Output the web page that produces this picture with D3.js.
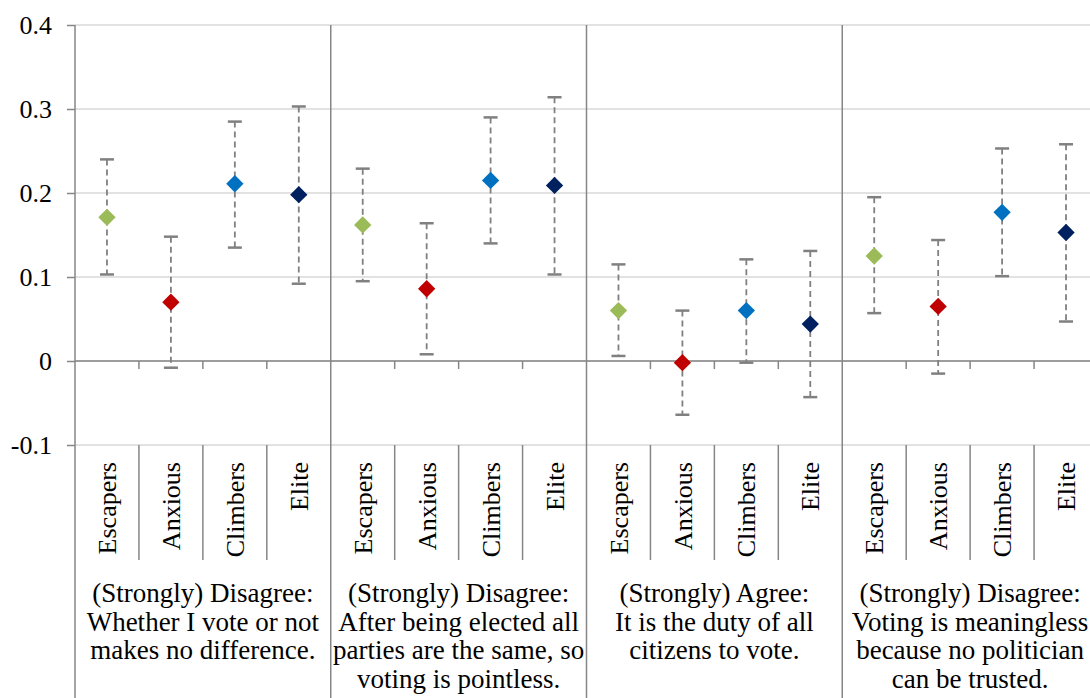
<!DOCTYPE html>
<html>
<head>
<meta charset="utf-8">
<script src="https://cdn.jsdelivr.net/npm/d3@7"></script>
<style>
  html, body { margin: 0; padding: 0; background: #fff; }
  svg { display: block; }
</style>
</head>
<body>
<svg id="chart" width="1090" height="698" font-family="Liberation Serif"></svg>
<script>
// ---- data ----
const groupLabels = [
  ["(Strongly) Disagree:", "Whether I vote or not", "makes no difference."],
  ["(Strongly) Disagree:", "After being elected all", "parties are the same, so", "voting is pointless."],
  ["(Strongly) Agree:", "It is the duty of all", "citizens to vote."],
  ["(Strongly) Disagree:", "Voting is meaningless", "because no politician", "can be trusted."]
];
const categories = ["Escapers", "Anxious", "Climbers", "Elite"];
const seriesColors = ["#9BBB59", "#C00000", "#0070C0", "#002060"];
const estimates = [
  [0.171, 0.070, 0.211, 0.198],
  [0.162, 0.086, 0.215, 0.209],
  [0.060, -0.002, 0.060, 0.044],
  [0.125, 0.065, 0.177, 0.153]
];
const upperCI = [
  [0.240, 0.148, 0.285, 0.303],
  [0.229, 0.164, 0.290, 0.314],
  [0.115, 0.060, 0.121, 0.131],
  [0.195, 0.144, 0.253, 0.258]
];
const lowerCI = [
  [0.103, -0.008, 0.135, 0.092],
  [0.095, 0.008, 0.140, 0.103],
  [0.006, -0.064, -0.002, -0.043],
  [0.057, -0.015, 0.101, 0.047]
];
const yTicks = [-0.1, 0, 0.1, 0.2, 0.3, 0.4];

// ---- layout ----
const W = 1090, H = 698;
const mLeft = 75, mRight = 1098, mTop = 25, plotBottom = 445;
const FONT = "Liberation Serif";
const svg = d3.select("#chart");
const axisColor = "#868686";
const gridColor = "#d9d9d9";

const y = d3.scaleLinear().domain([-0.1, 0.4]).range([plotBottom, mTop]);
const gx = d3.scaleBand().domain(d3.range(groupLabels.length)).range([mLeft, mRight]).padding(0);
const cx = d3.scaleBand().domain(categories).range([0, gx.bandwidth()]).padding(0);

// gridlines
svg.append("g").selectAll("line").data(yTicks).join("line")
  .attr("x1", mLeft).attr("x2", W)
  .attr("y1", d => y(d)).attr("y2", d => y(d))
  .attr("stroke", gridColor).attr("stroke-width", 1.5);

// y axis
const yAxis = d3.axisLeft(y).tickValues(yTicks).tickSize(8).tickPadding(15)
  .tickFormat(d => d === 0 ? "0" : String(d));
const ya = svg.append("g").attr("transform", `translate(${mLeft},0)`).call(yAxis)
  .attr("font-family", FONT).attr("font-size", 26);
ya.select(".domain").remove();
ya.selectAll(".tick line").attr("stroke", axisColor).attr("stroke-width", 1.5);
ya.selectAll(".tick text").attr("font-size", 26).attr("font-family", FONT).attr("fill", "#000");

// zero line
svg.append("line").attr("x1", mLeft).attr("x2", W)
  .attr("y1", y(0)).attr("y2", y(0))
  .attr("stroke", axisColor).attr("stroke-width", 1.5);

// left axis line and group dividers
const groupEdges = d3.range(groupLabels.length).map(i => gx(i));
svg.append("g").selectAll("line").data(groupEdges).join("line")
  .attr("x1", d => d).attr("x2", d => d)
  .attr("y1", mTop).attr("y2", H)
  .attr("stroke", axisColor).attr("stroke-width", 1.5);

// category dividers (inner)
const inner = [];
groupLabels.forEach((g, gi) => {
  categories.slice(1).forEach(c => inner.push(gx(gi) + cx(c)));
});
svg.append("g").selectAll("line").data(inner).join("line")
  .attr("x1", d => d).attr("x2", d => d)
  .attr("y1", y(0)).attr("y2", y(0) + 8)
  .attr("stroke", axisColor).attr("stroke-width", 1.5);
svg.append("g").selectAll("line").data(inner).join("line")
  .attr("x1", d => d).attr("x2", d => d)
  .attr("y1", plotBottom).attr("y2", 560)
  .attr("stroke", axisColor).attr("stroke-width", 1.5);

// category labels
const catG = svg.append("g").attr("font-family", FONT);
groupLabels.forEach((g, gi) => {
  categories.forEach(c => {
    const x = gx(gi) + cx(c) + cx.bandwidth() / 2;
    catG.append("text")
      .attr("transform", `translate(${x},462) rotate(-90)`)
      .attr("text-anchor", "end")
      .attr("dy", "0.35em")
      .attr("font-family", FONT)
      .attr("font-size", 26)
      .attr("fill", "#000")
      .text(c);
  });
});

// group labels
const grpG = svg.append("g").attr("font-family", FONT);
groupLabels.forEach((lines, gi) => {
  const x = gx(gi) + gx.bandwidth() / 2;
  const t = grpG.append("text").attr("text-anchor", "middle")
    .attr("font-family", FONT).attr("font-size", 27).attr("fill", "#000");
  lines.forEach((ln, li) => {
    t.append("tspan").attr("x", x).attr("y", 602 + li * 28.5).text(ln);
  });
});

// error bars + markers
const pts = [];
groupLabels.forEach((g, gi) => {
  categories.forEach((c, ci) => {
    pts.push({
      x: gx(gi) + cx(c) + cx.bandwidth() / 2,
      v: estimates[gi][ci], lo: lowerCI[gi][ci], hi: upperCI[gi][ci],
      color: seriesColors[ci]
    });
  });
});
const eb = svg.append("g");
eb.selectAll("line.stem").data(pts).join("line").attr("class", "stem")
  .attr("x1", d => d.x).attr("x2", d => d.x)
  .attr("y1", d => y(d.hi)).attr("y2", d => y(d.lo))
  .attr("stroke", "#808080").attr("stroke-width", 1.8)
  .attr("stroke-dasharray", "6,4");
eb.selectAll("line.capHi").data(pts).join("line").attr("class", "capHi")
  .attr("x1", d => d.x - 7).attr("x2", d => d.x + 7)
  .attr("y1", d => y(d.hi)).attr("y2", d => y(d.hi))
  .attr("stroke", "#808080").attr("stroke-width", 2.5);
eb.selectAll("line.capLo").data(pts).join("line").attr("class", "capLo")
  .attr("x1", d => d.x - 7).attr("x2", d => d.x + 7)
  .attr("y1", d => y(d.lo)).attr("y2", d => y(d.lo))
  .attr("stroke", "#808080").attr("stroke-width", 2.5);

const sym = d3.symbol().type(d3.symbolSquare).size(150);
svg.append("g").selectAll("path").data(pts).join("path")
  .attr("d", sym)
  .attr("transform", d => `translate(${d.x},${y(d.v)}) rotate(45)`)
  .attr("fill", d => d.color);
</script>
</body>
</html>
